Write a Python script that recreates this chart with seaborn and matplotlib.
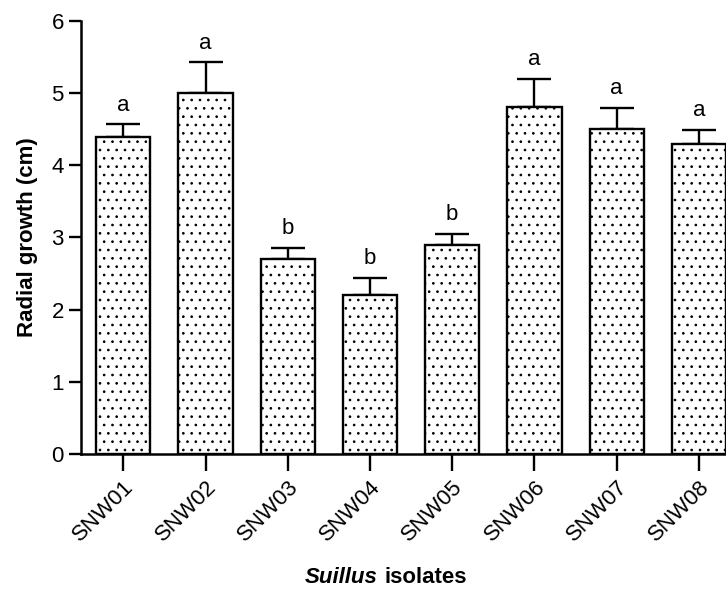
import numpy as np
import pandas as pd
import seaborn as sns
import matplotlib.pyplot as plt

# data
isolates = ["SNW01", "SNW02", "SNW03", "SNW04", "SNW05", "SNW06", "SNW07", "SNW08"]
growth = [4.40, 5.00, 2.70, 2.20, 2.90, 4.81, 4.51, 4.30]
sd = [0.17, 0.43, 0.16, 0.24, 0.15, 0.39, 0.29, 0.19]
groups = ["a", "a", "b", "b", "b", "a", "a", "a"]

df = pd.DataFrame({"isolate": isolates, "growth": growth, "sd": sd, "group": groups})

sns.set_theme(style="ticks")
plt.rcParams['font.family'] = ['Liberation Sans', 'DejaVu Sans']
plt.rcParams['hatch.color'] = 'black'
plt.rcParams['hatch.linewidth'] = 0.7
for key in ['text.color', 'axes.labelcolor', 'xtick.color', 'ytick.color']:
    plt.rcParams[key] = 'black'

fig = plt.figure(figsize=(7.26, 5.90), dpi=100)
ax = fig.add_axes([0.111, 0.231, 0.889, 0.733])

sns.barplot(data=df, x="isolate", y="growth", color="white", edgecolor="black",
            linewidth=1.7, width=0.66, errorbar=None, ax=ax, zorder=3)
for bar in ax.patches:
    bar.set_hatch("..")

# upper error bars only
xpos = np.arange(len(isolates))
ax.errorbar(xpos, df["growth"], yerr=[np.zeros(len(sd)), df["sd"]], fmt="none",
            ecolor="black", elinewidth=1.7, capsize=12, capthick=1.7, zorder=2)

# significance letters
for i, (m, s, g) in enumerate(zip(growth, sd, groups)):
    ax.text(i, m + s + 0.12, g, ha="center", va="bottom", fontsize=16)

ax.set_ylim(0, 6)
ax.set_xlim(-0.52, 7.33)
ax.set_yticks(range(0, 7))
ax.tick_params(axis="both", width=1.7, labelsize=16, color="black")
ax.tick_params(axis="y", length=9, pad=3)
ax.tick_params(axis="x", length=12, pad=4)
plt.setp(ax.get_xticklabels(), rotation=45, ha="right", rotation_mode="anchor")

for side in ["left", "bottom"]:
    ax.spines[side].set_linewidth(1.8)
    ax.spines[side].set_color("black")
sns.despine(ax=ax)

ax.set_ylabel("Radial growth (cm)", fontsize=16, fontweight="bold", labelpad=10)
ax.set_xlabel("")

# x label: italic genus name + plain bold word
fig.text(378 / 726, 0.012, "Suillus", ha="right", va="baseline",
         fontsize=16, fontweight="bold", fontstyle="italic")
fig.text(385 / 726, 0.012, "isolates", ha="left", va="baseline",
         fontsize=16, fontweight="bold")

fig.savefig("out.png", dpi=100)
